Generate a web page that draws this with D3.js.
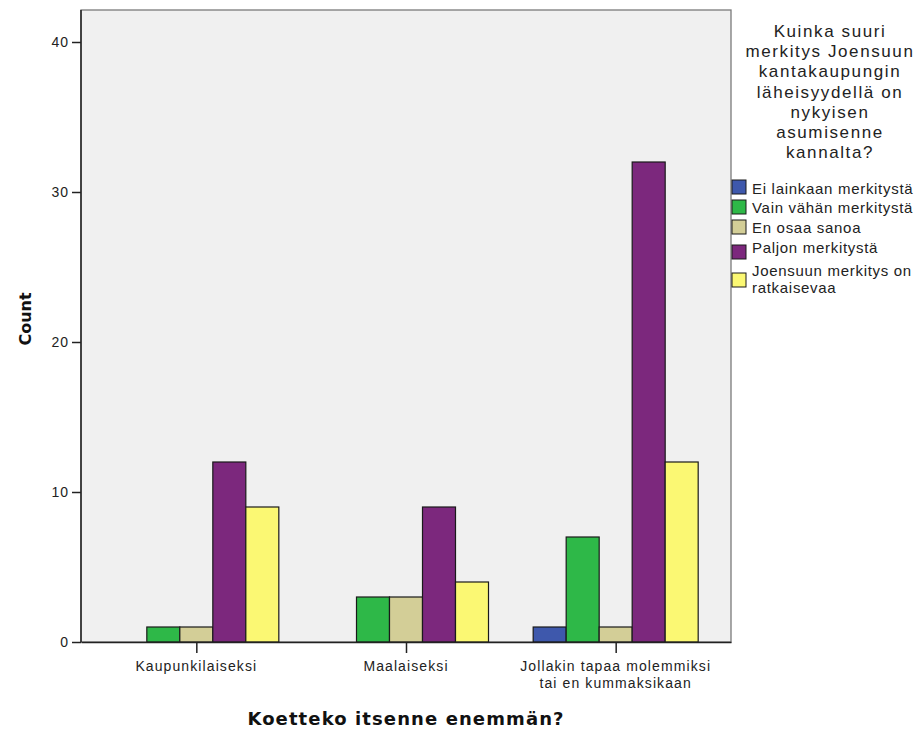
<!DOCTYPE html>
<html><head><meta charset="utf-8">
<script src="https://cdn.jsdelivr.net/npm/d3@7"></script>
<style>body{margin:0;background:#fff;} svg{display:block;font-family:Arial,"Liberation Sans",sans-serif;}</style>
</head><body>
<svg id="c" width="924" height="731"></svg>
<script>
const categories = ["Kaupunkilaiseksi", "Maalaiseksi", "Jollakin tapaa molemmiksi\ntai en kummaksikaan"];
const seriesNames = ["Ei lainkaan merkitystä", "Vain vähän merkitystä", "En osaa sanoa", "Paljon merkitystä", "Joensuun merkitys on\nratkaisevaa"];
const seriesColors = ["#3E58AC", "#2EB848", "#D3CE97", "#7C287D", "#FBF873"];
const eiLainkaan = [0, 0, 1];
const vainVahan = [1, 3, 7];
const enOsaa = [1, 3, 1];
const paljon = [12, 9, 32];
const ratkaisevaa = [9, 4, 12];
const yTicks = [0, 10, 20, 30, 40];
const legendTitle = ["Kuinka suuri", "merkitys Joensuun", "kantakaupungin", "läheisyydellä on", "nykyisen", "asumisenne", "kannalta?"];
const xTitle = "Koetteko itsenne enemmän?";
const yTitle = "Count";

const series = [eiLainkaan, vainVahan, enOsaa, paljon, ratkaisevaa];
const svg = d3.select("#c");
const L = 81, R = 731, T = 10, B = 642;

const x = d3.scalePoint().domain(categories).range([L, R]).padding(0.55);
const sub = d3.scaleBand().domain(d3.range(5)).range([-82.5, 82.5]).padding(0);
const y = d3.scaleLinear().domain([0, 40]).range([B, 42]);

svg.append("rect").attr("x", L).attr("y", T).attr("width", R - L).attr("height", B - T)
  .attr("fill", "#F0F0F0").attr("stroke", "#7a7a7a").attr("stroke-width", 1.3);

categories.forEach((c, ci) => {
  series.forEach((s, si) => {
    const v = s[ci];
    if (v <= 0) return;
    svg.append("rect")
      .attr("x", x(c) + sub(si))
      .attr("y", y(v))
      .attr("width", sub.bandwidth())
      .attr("height", y(0) - y(v))
      .attr("fill", seriesColors[si])
      .attr("stroke", "#1a1a1a").attr("stroke-width", 1.2);
  });
});

// Y axis
const ya = svg.append("g").attr("transform", `translate(${L},0)`)
  .call(d3.axisLeft(y).tickValues(yTicks).tickSize(9).tickSizeOuter(0).tickPadding(3).tickFormat(d3.format("d")));
ya.select(".domain").attr("d", `M0,${T}V${B}`).attr("stroke", "#222").attr("stroke-width", 1.5);
ya.selectAll(".tick line").attr("stroke", "#222").attr("stroke-width", 1.5);
ya.selectAll(".tick text").attr("font-size", 14).attr("letter-spacing", 1).attr("fill", "#222")
  .attr("font-family", "Arial, Liberation Sans, sans-serif");

// X axis
const xa = svg.append("g").attr("transform", `translate(0,${B})`)
  .call(d3.axisBottom(x).tickSize(11).tickSizeOuter(0).tickFormat(""));
xa.select(".domain").attr("stroke", "#222").attr("stroke-width", 1.5);
xa.selectAll(".tick line").attr("stroke", "#222").attr("stroke-width", 1.5);
categories.forEach(c => {
  const lines = c.split("\n");
  const t = svg.append("text").attr("y", 671).attr("text-anchor", "middle")
    .attr("font-size", 14).attr("letter-spacing", 1.1).attr("fill", "#222");
  lines.forEach((ln, i) => t.append("tspan").attr("x", x(c)).attr("dy", i ? 17 : 0).text(ln));
});

svg.append("text").attr("x", 406).attr("y", 725).attr("text-anchor", "middle")
  .attr("font-family", "DejaVu Sans, Verdana, sans-serif")
  .attr("font-size", 18).attr("letter-spacing", 1.1).attr("font-weight", "bold").attr("fill", "#111").text(xTitle);
svg.append("text").attr("transform", "translate(31,319) rotate(-90)").attr("text-anchor", "middle")
  .attr("font-family", "DejaVu Sans, Verdana, sans-serif")
  .attr("font-size", 16).attr("font-weight", "bold").attr("fill", "#111").text(yTitle);

// Legend
const lt = svg.append("text").attr("text-anchor", "middle").attr("font-size", 17)
  .attr("letter-spacing", 1.6).attr("fill", "#222");
legendTitle.forEach((ln, i) => lt.append("tspan").attr("x", 830).attr("y", 37 + i * 20.2).text(ln));

const swY = [180, 200, 220, 245, 273];
const txY = [194, 213, 233, 253, 276];
seriesNames.forEach((n, i) => {
  const lines = n.split("\n");
  svg.append("rect").attr("x", 732).attr("y", swY[i]).attr("width", 14).attr("height", 14)
    .attr("fill", seriesColors[i]).attr("stroke", "#1a1a1a").attr("stroke-width", 1);
  lines.forEach((ln, j) => svg.append("text").attr("font-size", 15).attr("letter-spacing", 0.7)
    .attr("fill", "#222").attr("x", 752).attr("y", txY[i] + j * 17).text(ln));
});
</script>
</body></html>
